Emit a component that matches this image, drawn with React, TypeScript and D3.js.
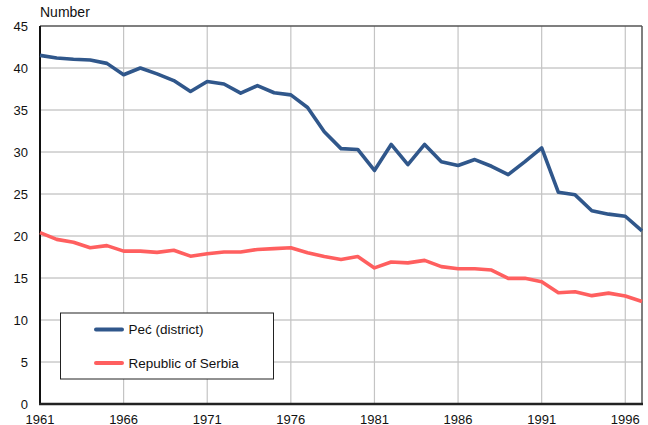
import React from "react";
import * as d3 from "d3";

const years: number[] = [
  1961, 1962, 1963, 1964, 1965, 1966, 1967, 1968, 1969, 1970, 1971, 1972, 1973,
  1974, 1975, 1976, 1977, 1978, 1979, 1980, 1981, 1982, 1983, 1984, 1985, 1986,
  1987, 1988, 1989, 1990, 1991, 1992, 1993, 1994, 1995, 1996, 1997,
];
const pecValues: number[] = [
  41.5, 41.2, 41.05, 40.95, 40.55, 39.2, 40.0, 39.3, 38.5, 37.2, 38.4, 38.1, 37.0,
  37.9, 37.05, 36.8, 35.3, 32.4, 30.4, 30.3, 27.8, 30.9, 28.5, 30.9, 28.85, 28.4,
  29.1, 28.3, 27.3, 28.85, 30.5, 25.2, 24.9, 23.0, 22.6, 22.35, 20.6,
];
const serbiaValues: number[] = [
  20.4, 19.6, 19.25, 18.6, 18.85, 18.2, 18.2, 18.05, 18.3, 17.6, 17.88, 18.1, 18.1,
  18.4, 18.5, 18.6, 18.0, 17.55, 17.2, 17.55, 16.2, 16.9, 16.8, 17.1, 16.35, 16.1,
  16.1, 15.95, 14.96, 14.96, 14.56, 13.25, 13.37, 12.9, 13.2, 12.86, 12.2,
];
const yTicks: number[] = [0, 5, 10, 15, 20, 25, 30, 35, 40, 45];
const xTicks: number[] = [1961, 1966, 1971, 1976, 1981, 1986, 1991, 1996];
const seriesNames: string[] = ["Peć (district)", "Republic of Serbia"];
const seriesColors: string[] = ["#30578b", "#ff5f5f"];
const yLabel = "Number";

const W = 648;
const H = 425;
const m = { left: 40, right: 6, top: 26, bottom: 21 };

export default function App() {
  const x = d3.scaleLinear().domain([1961, 1997]).range([m.left, W - m.right]);
  const y = d3.scaleLinear().domain([0, 45]).range([H - m.bottom, m.top]);
  const seriesData = [pecValues, serbiaValues];
  const line = d3
    .line<number>()
    .x((_, i) => x(years[i]))
    .y((d) => y(d));
  const font = "'Liberation Sans', Arial, sans-serif";

  return (
    <svg
      width={W}
      height={H}
      style={{ position: "absolute", left: 0, top: 0, background: "#fff" }}
      fontFamily={font}
    >
      <rect x={0} y={0} width={W} height={H} fill="#fff" />
      {/* horizontal grid */}
      {yTicks
        .filter((t) => t > 0 && t < 45)
        .map((t) => (
          <line
            key={"h" + t}
            x1={x.range()[0]}
            x2={x.range()[1]}
            y1={y(t)}
            y2={y(t)}
            stroke="#b0b0b0"
            strokeWidth={1}
          />
        ))}
      {/* vertical grid */}
      {xTicks
        .filter((t) => t > 1961)
        .map((t) => (
          <line
            key={"v" + t}
            x1={x(t)}
            x2={x(t)}
            y1={y(0)}
            y2={y(45)}
            stroke="#c4c4c4"
            strokeWidth={1.2}
          />
        ))}
      {/* frame */}
      <line x1={x.range()[0]} x2={x.range()[1]} y1={y(45)} y2={y(45)} stroke="#555" strokeWidth={1.5} />
      <line x1={x.range()[1]} x2={x.range()[1]} y1={y(45)} y2={y(0)} stroke="#555" strokeWidth={1.5} />
      <line x1={x.range()[0]} x2={x.range()[0]} y1={y(45)} y2={y(0)} stroke="#111" strokeWidth={2} />
      {/* lines */}
      {seriesData.map((vals, i) => (
        <path
          key={"s" + i}
          d={line(vals) || ""}
          fill="none"
          stroke={seriesColors[i]}
          strokeWidth={3.6}
          strokeLinejoin="round"
        />
      ))}
      <line x1={x.range()[0] - 1} x2={x.range()[1] + 1} y1={y(0)} y2={y(0)} stroke="#222" strokeWidth={2.5} />
      {/* y tick labels */}
      {yTicks.map((t) => (
        <text
          key={"yl" + t}
          x={28}
          y={y(t)}
          dy="0.35em"
          textAnchor="end"
          fontSize={13}
          fill="#111"
        >
          {t}
        </text>
      ))}
      {/* x tick labels */}
      {xTicks.map((t) => (
        <text key={"xl" + t} x={x(t)} y={424} textAnchor="middle" fontSize={13} fill="#111">
          {t}
        </text>
      ))}
      <text x={40} y={17} fontSize={14} fill="#111">
        {yLabel}
      </text>
      {/* legend */}
      <rect x={60.5} y={313} width={213} height={66} fill="#fff" stroke="#222" strokeWidth={1} />
      {seriesNames.map((n, i) => {
        const ly = 329.5 + i * 33.5;
        return (
          <g key={"lg" + i}>
            <line
              x1={96}
              x2={122}
              y1={ly}
              y2={ly}
              stroke={seriesColors[i]}
              strokeWidth={4}
              strokeLinecap="round"
            />
            <text x={128.5} y={ly} dy="0.35em" fontSize={13.5} fill="#111">
              {n}
            </text>
          </g>
        );
      })}
    </svg>
  );
}
